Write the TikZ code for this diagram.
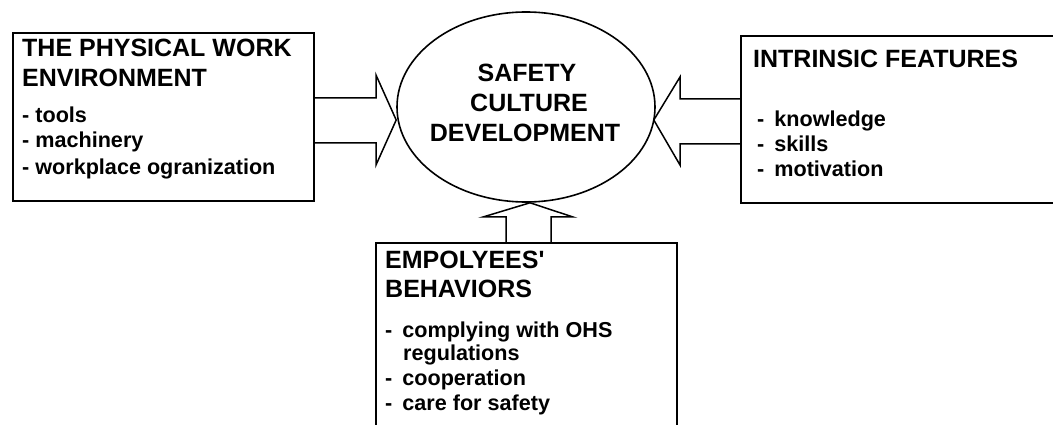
\documentclass[tikz,border=0pt]{standalone}
\usepackage{fontspec}
\setmainfont{Liberation Sans}[Ligatures=TeXOff]
\usetikzlibrary{shapes.geometric,calc}
\begin{document}
\begin{tikzpicture}[x=1pt,y=-1pt,
  box/.style={draw,line width=1.6pt,inner sep=0pt,anchor=north west},
  ttl/.style={inner sep=0pt,anchor=base west,font=\fontsize{25}{30}\selectfont\bfseries},
  itm/.style={inner sep=0pt,anchor=base west,font=\fontsize{21.6}{26}\selectfont\bfseries},
  ctr/.style={inner sep=0pt,anchor=base,font=\fontsize{25}{30}\selectfont\bfseries},
  barrow/.style={draw,line width=1.5pt,line join=miter}]
\clip (0,0) rectangle (1053,425);
\fill[white] (0,0) rectangle (1053,425);
% boxes
\node[box,minimum width=301pt,minimum height=168pt] (L) at (12,32) {};
\node[box,minimum width=330pt,minimum height=167pt] (R) at (740,35) {};
\node[box,minimum width=301pt,minimum height=200pt] (B) at (375,242) {};
% ellipse
\node[draw,ellipse,line width=1.6pt,minimum width=258pt,minimum height=190pt,inner sep=0pt] (E) at (526,107) {};
% ellipse text
\node[ctr] (e1) at (527,82) {SAFETY};
\node[ctr] (e2) at (529,112) {CULTURE};
\node[ctr] (e3) at (525,142) {DEVELOPMENT};
% left box text
\node[ttl] (l1) at (22,57) {THE PHYSICAL WORK};
\node[ttl] (l2) at (22,87) {ENVIRONMENT};
\node[itm] (l3) at (22,123) {- tools};
\node[itm] (l4) at (22,148) {- machinery};
\node[itm] (l5) at (22,175) {- workplace ogranization};
% right box text
\node[ttl] (r1) at (753,68) {INTRINSIC FEATURES};
\node[itm] (r2) at (757,127) {-\hspace{10pt}knowledge};
\node[itm] (r3) at (757,152) {-\hspace{10pt}skills};
\node[itm] (r4) at (757,177) {-\hspace{10pt}motivation};
% bottom box text
\node[ttl] (b1) at (385,268) {EMPOLYEES'};
\node[ttl] (b2) at (385,297) {BEHAVIORS};
\node[itm] (b3) at (385,337) {-\hspace{10pt}complying with OHS};
\node[itm] (b4) at (403,360) {regulations};
\node[itm] (b5) at (385,385) {-\hspace{10pt}cooperation};
\node[itm] (b6) at (385,410) {-\hspace{10pt}care for safety};
% block arrows
\coordinate (ltip) at ($(E.west)+(0,13)$);
\coordinate (rtip) at ($(E.east)+(-2,13)$);
\coordinate (btip) at ($(E.south)+(4,0)$);
\draw[barrow] ($(L.north east)+(0,66)$) -- (376,98) -- (376,75) -- (ltip)
  -- (376,165) -- (376,143) -- ($(L.north east)+(0,111)$);
\draw[barrow] ($(R.north west)+(0,64)$) -- (680,99) -- (680,77) -- (rtip)
  -- (680,165) -- (680,144) -- ($(R.north west)+(0,109)$);
\draw[barrow] ($(B.north west)+(131,0)$) -- (506,217) -- (483,217) -- (btip)
  -- (573,217) -- (551,217) -- ($(B.north west)+(176,0)$);
\end{tikzpicture}
\end{document}
